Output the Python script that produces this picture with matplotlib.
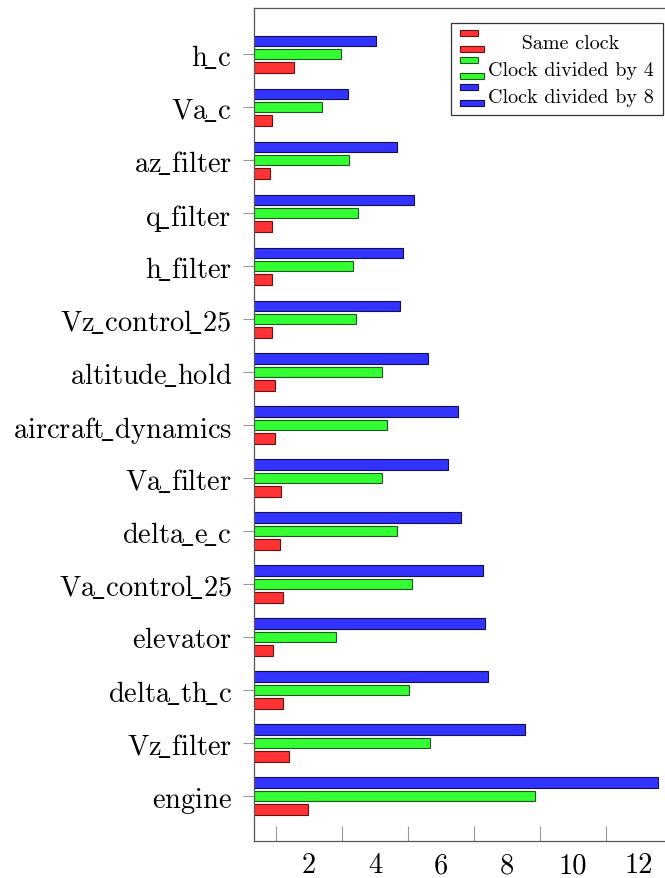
import numpy as np
import matplotlib
matplotlib.use('Agg')
import matplotlib.pyplot as plt
from matplotlib.patches import Rectangle
from matplotlib.legend_handler import HandlerBase

plt.rcParams['font.family'] = 'cmr10'
plt.rcParams['mathtext.fontset'] = 'cm'
plt.rcParams['axes.formatter.use_mathtext'] = True

# categories listed bottom -> top
categories = ['engine', 'Vz_filter', 'delta_th_c', 'elevator', 'Va_control_25',
              'delta_e_c', 'Va_filter', 'aircraft_dynamics', 'altitude_hold',
              'Vz_control_25', 'h_filter', 'q_filter', 'az_filter', 'Va_c', 'h_c']
same_clock = [1.96, 1.38, 1.20, 0.92, 1.22, 1.12, 1.14, 0.97, 0.97, 0.89,
              0.88, 0.87, 0.81, 0.87, 1.54]
clock_div4 = [8.85, 5.67, 5.03, 2.81, 5.11, 4.65, 4.22, 4.37, 4.22, 3.42,
              3.33, 3.48, 3.20, 2.38, 2.96]
clock_div8 = [12.59, 8.55, 7.41, 7.34, 7.27, 6.61, 6.20, 6.51, 5.61, 4.76,
              4.84, 5.17, 4.66, 3.17, 4.03]
series_labels = ['Same clock', 'Clock divided by 4', 'Clock divided by 8']
xtick_labels = ['2', '4', '6', '8', '10', '12']


class PairHandler(HandlerBase):
    # pgfplots style xbar legend image: a short bar above a long one
    def create_artists(self, legend, orig_handle, xdescent, ydescent,
                       width, height, fontsize, trans):
        fc = orig_handle.get_facecolor()
        ec = orig_handle.get_edgecolor()
        small = Rectangle((-xdescent, -ydescent + 0.78 * height), 0.75 * width,
                          0.33 * height, fc=fc, ec=ec, lw=0.8, transform=trans)
        big = Rectangle((-xdescent, -ydescent - 0.1 * height), width,
                        0.33 * height, fc=fc, ec=ec, lw=0.8, transform=trans)
        return [small, big]


fig = plt.figure(figsize=(6.65, 8.79), dpi=100)
ax = fig.add_axes([254 / 665, 37 / 879, 413 / 665, 833 / 879])

y = np.arange(len(categories))
h = 0.2
r = ax.barh(y - 0.25, same_clock, height=h, color='#ff3333', edgecolor='#6b1010', lw=0.8)
g = ax.barh(y, clock_div4, height=h, color='#33ff33', edgecolor='#1d5a1d', lw=0.8)
b = ax.barh(y + 0.25, clock_div8, height=h, color='#3333ff', edgecolor='#10104f', lw=0.8)

ax.set_xlim(0.33, 12.85)
ax.set_ylim(-0.85, 14.87)

ax.set_yticks(y)
ax.set_yticklabels([r'$\mathrm{' + c.replace('_', r'\!\_') + '}$' for c in categories],
                   fontsize=20.5)
ax.tick_params(axis='y', direction='out', length=8, width=0.8, color='#999999', pad=8)

ax.set_xticks(np.arange(2, 13, 2))
ax.set_xticklabels(xtick_labels, fontsize=20.5)
ax.set_xticks(np.arange(1, 12, 2), minor=True)
ax.tick_params(axis='x', which='major', length=0, pad=8)
ax.tick_params(axis='x', which='minor', direction='in', length=11, width=0.8,
               color='#999999')

for s in ['left', 'bottom', 'top', 'right']:
    ax.spines[s].set_color('#555555')
    ax.spines[s].set_linewidth(0.9)

handles = [r.patches[0], g.patches[0], b.patches[0]]
labels = ['     ' + series_labels[0], series_labels[1], series_labels[2]]
leg = ax.legend(handles, labels, loc='upper right',
                bbox_to_anchor=(663 / 665, 1 - 24 / 879), bbox_transform=fig.transFigure,
                handler_map={Rectangle: PairHandler()}, fontsize=14.5,
                frameon=True, fancybox=False, borderaxespad=0, borderpad=0.45,
                handlelength=1.2, handleheight=1.0, handletextpad=0.2,
                labelspacing=0.35)
leg.get_frame().set_edgecolor('black')
leg.get_frame().set_linewidth(0.9)

fig.savefig('out.png', dpi=100)
